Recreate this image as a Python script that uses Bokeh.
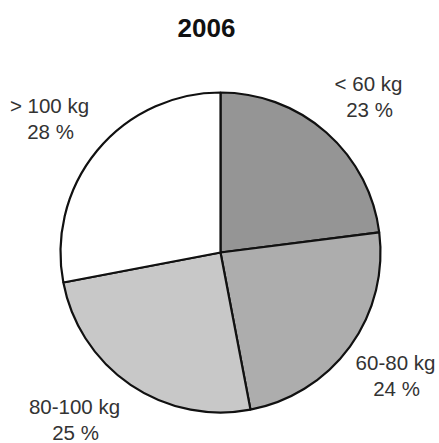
import numpy as np
from bokeh.plotting import figure
from bokeh.models import Range1d, ColumnDataSource
from bokeh.core.properties import value
from bokeh.embed import file_html
from bokeh.resources import INLINE

# Data
categories = ["< 60 kg", "60-80 kg", "80-100 kg", "> 100 kg"]
shares = [23, 24, 25, 28]
pct_labels = ["23 %", "24 %", "25 %", "28 %"]
colors = ["#959595", "#adadad", "#c8c8c8", "#ffffff"]

# Layout (pixel-like data units; y measured up from bottom of window)
W, H = 439, 443
cx, cy, r = 220, 191, 160
label_pos = [(368, 360), (395, 81), (74, 37), (49, 338)]  # (x, y of first line)
line_gap = 26

frac = np.array(shares) / sum(shares)
ends = np.pi / 2 - 2 * np.pi * np.cumsum(frac)
starts = np.concatenate([[np.pi / 2], ends[:-1]])

p = figure(width=W, height=H, output_backend="svg", toolbar_location=None,
           x_range=Range1d(0, W), y_range=Range1d(443 - H, 443),
           min_border=0, outline_line_color=None)
p.axis.visible = False
p.grid.visible = False
p.background_fill_color = "white"
p.border_fill_color = "white"

src = ColumnDataSource(dict(start=ends, end=starts, color=colors))
p.wedge(x=cx, y=cy, radius=r, start_angle="start", end_angle="end",
        fill_color="color", line_color="#111111", line_width=2.2, source=src)

tx, ty, tt = [], [], []
for (lx, ly), c, pl in zip(label_pos, categories, pct_labels):
    tx += [lx, lx + 1]
    ty += [ly, ly - line_gap]
    tt += [c, pl]
p.text(x=tx, y=ty, text=tt, text_align="center", text_baseline="middle",
       text_font=value("Liberation Sans"), text_font_size="20.5px",
       text_color="#333333")

p.text(x=[206], y=[443 - 27], text=["2006"], text_align="center",
       text_baseline="middle", text_font=value("Liberation Sans"),
       text_font_size="26px", text_font_style="bold", text_color="#111111")

open("out.html", "w").write(file_html(p, INLINE))
